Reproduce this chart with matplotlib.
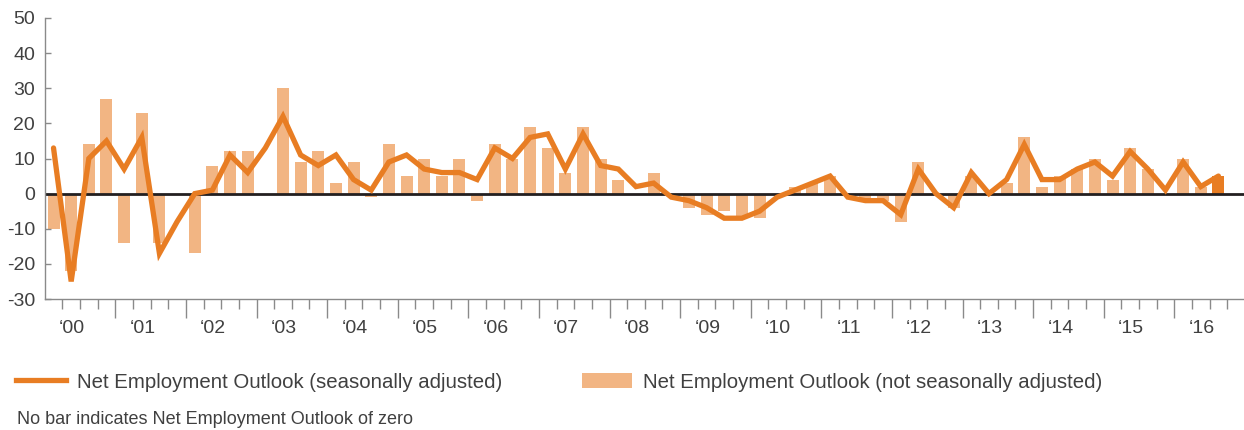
import matplotlib
matplotlib.use("Agg")
import matplotlib.pyplot as plt
from matplotlib.lines import Line2D
from matplotlib.patches import Patch
import numpy as np

plt.rcParams['font.family'] = ['Liberation Sans', 'DejaVu Sans']

# ---- data (quarterly, 2000 Q1 .. 2016 Q3) ----
year_labels = ["‘00", "‘01", "‘02", "‘03", "‘04", "‘05", "‘06", "‘07", "‘08",
               "‘09", "‘10", "‘11", "‘12", "‘13", "‘14", "‘15", "‘16"]

not_seasonally_adjusted = [
    -10, -22, 14, 27, -14, 23, -14, 0, -17, 8, 12, 12, 0, 30, 9, 12,
    3, 9, -1, 14, 5, 10, 5, 10, -2, 14, 10, 19, 13, 6, 19, 10, 4,
    0, 6, 0, -4, -6, -5, -7, -7, 0, 2, 3, 5, 0, -2, -2, -8, 9,
    0, -4, 5, 0, 3, 16, 2, 5, 7, 10, 4, 13, 7, 0, 10, 2, 5]

seasonally_adjusted = [
    13, -25, 10, 15, 7, 16, -17, -8, 0, 1, 11, 6, 13, 22, 11, 8,
    11, 4, 1, 9, 11, 7, 6, 6, 4, 13, 10, 16, 17, 7, 17, 8, 7,
    2, 3, -1, -2, -4, -7, -7, -5, -1, 1, 3, 5, -1, -2, -2, -6, 7,
    0, -4, 6, 0, 4, 14, 4, 4, 7, 9, 5, 12, 7, 1, 9, 2, 5]

y_ticks = [-30, -20, -10, 0, 10, 20, 30, 40, 50]

LINE_C = '#E87D23'
BAR_C = '#F2B583'
TEXT_C = '#404040'
AX_C = '#8a8a8a'

n = len(seasonally_adjusted)
x = np.arange(n) + 0.5

W, H = 1244, 430
fig = plt.figure(figsize=(W / 100, H / 100), dpi=100)
left_px, right_px, top_px, bot_px = 44.7, 1244, 18, 299
ax = fig.add_axes([left_px / W, 1 - bot_px / H, (right_px - left_px) / W, (bot_px - top_px) / H])

quarter_px = 17.65
ax.set_xlim(0, (right_px - left_px) / quarter_px)
ax.set_ylim(-30, 50)

bar_colors = [BAR_C] * (n - 1) + [LINE_C]
bars = ax.bar(x, not_seasonally_adjusted, width=0.68, color=bar_colors, zorder=1, linewidth=0)
ax.axhline(0, color='#231F20', lw=2.0, zorder=2)
line, = ax.plot(x, seasonally_adjusted, color=LINE_C, lw=3.8, zorder=3,
                solid_joinstyle='miter', solid_capstyle='round')

for s in ['top', 'right']:
    ax.spines[s].set_visible(False)
for s in ['left', 'bottom']:
    ax.spines[s].set_color(AX_C)
    ax.spines[s].set_linewidth(1.0)

ax.set_yticks(y_ticks)
ax.set_yticklabels([str(v) for v in y_ticks])
ax.tick_params(axis='y', direction='in', length=4, width=1, color=AX_C,
               labelsize=14, labelcolor=TEXT_C, pad=7)

# x ticks: quarter boundaries (minor), year boundaries (major)
ax.set_xticks(np.arange(4, n + 1, 4))
ax.set_xticks([b for b in range(1, n + 1) if b % 4 != 0], minor=True)
ax.tick_params(axis='x', which='major', direction='out', length=14, width=1, color=AX_C,
               labelbottom=False)
ax.tick_params(axis='x', which='minor', direction='out', length=7, width=1, color=AX_C)

for k, lab in enumerate(year_labels):
    ax.text(4 * k + 1.55, -36.0, lab, ha='center', va='top',
            fontsize=14, color=TEXT_C, clip_on=False)

handles = [Line2D([0], [0], color=LINE_C, lw=3.8),
           Patch(facecolor=BAR_C, edgecolor='none')]
labels = ['Net Employment Outlook (seasonally adjusted)',
          'Net Employment Outlook (not seasonally adjusted)']
fig.legend(handles, labels, loc='center left', bbox_to_anchor=(16 / W, 1 - 382 / H),
           ncol=2, frameon=False, fontsize=14.7, labelcolor=TEXT_C,
           handlelength=2.45, handleheight=0.8, handletextpad=0.55, columnspacing=3.9,
           borderaxespad=0, borderpad=0)

fig.text(17 / W, 1 - 419 / H, 'No bar indicates Net Employment Outlook of zero',
         ha='left', va='center', fontsize=13, color=TEXT_C)

fig.savefig('out.png', dpi=100)
